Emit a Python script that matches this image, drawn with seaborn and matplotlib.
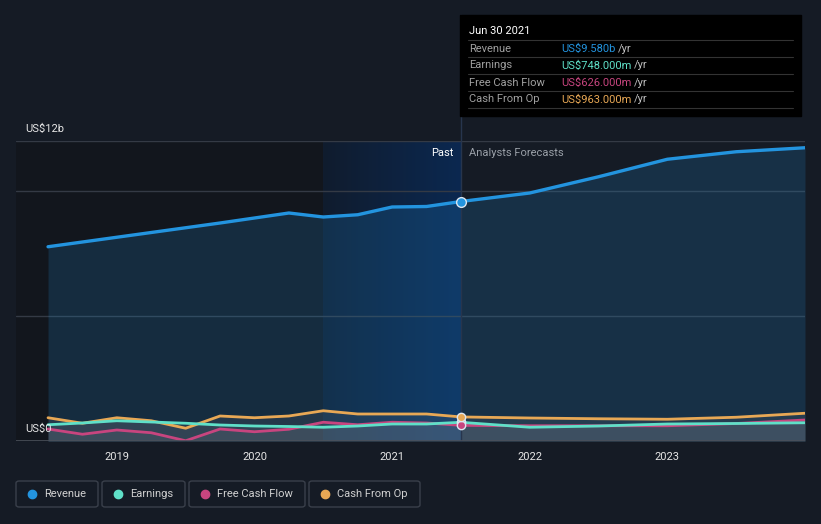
import numpy as np
import pandas as pd
import matplotlib
matplotlib.use("Agg")
import matplotlib.pyplot as plt
import matplotlib.patches as mpatches
from matplotlib.lines import Line2D
from matplotlib.colors import LinearSegmentedColormap
import seaborn as sns

# --- data (US$ billions) ---
past_dates = [2018.5, 2018.75, 2019.0, 2019.25, 2019.5, 2019.75, 2020.0,
              2020.25, 2020.5, 2020.75, 2021.0, 2021.25, 2021.5]
past_revenue = [7.77, 7.96, 8.15, 8.34, 8.53, 8.72, 8.92, 9.12, 8.96, 9.05, 9.36, 9.38, 9.58]
past_earnings = [0.65, 0.72, 0.81, 0.76, 0.71, 0.64, 0.60, 0.58, 0.55, 0.60, 0.68, 0.68, 0.748]
past_fcf = [0.48, 0.27, 0.44, 0.33, 0.01, 0.48, 0.37, 0.47, 0.75, 0.65, 0.75, 0.72, 0.626]
past_cfo = [0.93, 0.71, 0.93, 0.81, 0.51, 1.00, 0.93, 1.00, 1.21, 1.08, 1.08, 1.08, 0.963]

fc_dates = [2021.5, 2022.0, 2022.5, 2023.0, 2023.5, 2024.0]
fc_revenue = [9.58, 9.92, 10.57, 11.27, 11.57, 11.73]
fc_earnings = [0.748, 0.55, 0.60, 0.68, 0.70, 0.73]
fc_fcf = [0.626, 0.61, 0.61, 0.61, 0.70, 0.84]
fc_cfo = [0.963, 0.92, 0.89, 0.87, 0.95, 1.11]

series_names = ["Revenue", "Earnings", "Free Cash Flow", "Cash From Op"]
series_colors = ["#2394df", "#5fe0c8", "#c8457f", "#e8a855"]
tooltip_values = ["US$9.580b", "US$748.000m", "US$626.000m", "US$963.000m"]
year_ticks = [2019, 2020, 2021, 2022, 2023]

W, H = 821, 524
BG = "#151b25"


def fx(x):
    return x / W


def fy(y):
    return 1 - y / H


past = pd.DataFrame({"date": past_dates, "Revenue": past_revenue, "Earnings": past_earnings,
                     "Free Cash Flow": past_fcf, "Cash From Op": past_cfo})
fc = pd.DataFrame({"date": fc_dates, "Revenue": fc_revenue, "Earnings": fc_earnings,
                   "Free Cash Flow": fc_fcf, "Cash From Op": fc_cfo})
full = pd.concat([past, fc.iloc[1:]], ignore_index=True)
long = full.melt(id_vars="date", var_name="series", value_name="value")

sns.set_style("dark")
plt.rcParams["font.family"] = ["Roboto", "DejaVu Sans"]

fig = plt.figure(figsize=(W / 100, H / 100), dpi=100, facecolor=BG)
ax = fig.add_axes([fx(16), fy(441), fx(805) - fx(16), fy(141) - fy(441)])
ax.set_facecolor(BG)

x0 = 2018.5 - 32 / 137.5
x1 = 2024.0
ax.set_xlim(x0, x1)
ax.set_ylim(0, 12)

# past shading
ax.axvspan(x0, 2020.5, color="#12161d", zorder=0, lw=0)
grad = LinearSegmentedColormap.from_list("g", ["#101c2e", "#0b2850"])
ax.imshow(np.linspace(0, 1, 100).reshape(1, -1), extent=[2020.5, 2021.5, 0, 12],
          aspect="auto", cmap=grad, zorder=0.5)
ax.set_xlim(x0, x1)
ax.set_ylim(0, 12)

# grid
for g in [5, 10, 12]:
    ax.axhline(g, color="#343a45", lw=1, zorder=1)
ax.axhline(0, color="#4a505a", lw=1.2, zorder=6)

# fills
ax.fill_between(full["date"], full["Revenue"], color="#2394df", alpha=0.18, lw=0, zorder=2)
for name in series_names[1:]:
    ax.fill_between(full["date"], full[name], color="#8a8f99", alpha=0.13, lw=0, zorder=2)

palette = dict(zip(series_names, series_colors))
sns.lineplot(data=long, x="date", y="value", hue="series", palette=palette,
             hue_order=series_names[::-1], linewidth=2.0, legend=False, ax=ax, zorder=4)
for line in ax.get_lines():
    if line.get_color() == "#2394df":
        line.set_linewidth(2.4)

# vertical marker line at Jun 30 2021
ax.axvline(2021.5, ymin=0, ymax=(441 - 15) / 300, color="#27354d", lw=1, clip_on=False, zorder=3)

# markers at Jun 30 2021
for name, col in zip(series_names, series_colors):
    v = past[name].iloc[-1]
    ms = 7 if name == "Revenue" else 6
    ax.plot([2021.5], [v], "o", ms=ms, mfc=col, mec="#dde6f0", mew=1, zorder=5)

# axes styling
ax.set_xticks(year_ticks)
ax.set_xticklabels([str(y) for y in year_ticks], color="#e6e6e6", fontsize=8)
ax.tick_params(axis="x", length=4, color="#4a505a", pad=4)
ax.set_yticks([])
ax.set_xlabel("")
ax.set_ylabel("")
for s in ax.spines.values():
    s.set_visible(False)
ax.grid(False)

fig.text(fx(25), fy(129), "US$12b", color="#e6e6e6", fontsize=8, va="center")
fig.text(fx(25), fy(429), "US$0", color="#e6e6e6", fontsize=8, va="center")
fig.text(fx(453), fy(153), "Past", color="#ffffff", fontsize=8, va="center", ha="right")
fig.text(fx(469), fy(153), "Analysts Forecasts", color="#9aa0a8", fontsize=8, va="center")

# tooltip
fig.add_artist(mpatches.Rectangle((fx(460), fy(116)), fx(801) - fx(460), fy(15) - fy(116),
                                  transform=fig.transFigure, color="#000000", zorder=10))
fig.text(fx(469), fy(31), "Jun 30 2021", color="#ffffff", fontsize=8, va="center", zorder=11)
for i, (name, col, val) in enumerate(zip(series_names, series_colors, tooltip_values)):
    ysep = 40 + 17 * i
    fig.add_artist(Line2D([fx(468), fx(793)], [fy(ysep), fy(ysep)], transform=fig.transFigure,
                          color="#333333", lw=0.8, zorder=11))
    yt = ysep + 8.5
    fig.text(fx(469), fy(yt), name, color="#a0a0a0", fontsize=8, va="center", zorder=11)
    t = fig.text(fx(561), fy(yt), val, color=col, fontsize=8, va="center", zorder=11)
    fig.canvas.draw()
    bb = t.get_window_extent()
    fig.text(bb.x1 / W + fx(3), fy(yt), "/yr", color="#c0c0c0", fontsize=8, va="center", zorder=11)
fig.add_artist(Line2D([fx(468), fx(793)], [fy(108), fy(108)], transform=fig.transFigure,
                      color="#333333", lw=0.8, zorder=11))

# legend boxes
boxes = [(16, 98), (102, 185), (189, 305), (309, 420)]
for (bx0, bx1), name, col in zip(boxes, series_names, series_colors):
    fig.add_artist(mpatches.FancyBboxPatch((fx(bx0), fy(507)), fx(bx1) - fx(bx0), fy(481) - fy(507),
                                           boxstyle="round,pad=0,rounding_size=0.004",
                                           transform=fig.transFigure, fc=BG, ec="#3a404b", lw=1))
    fig.add_artist(Line2D([fx(bx0 + 16)], [fy(494)], marker="o", ms=6, color=col,
                          transform=fig.transFigure))
    fig.text(fx(bx0 + 28), fy(494), name, color="#d0d0d0", fontsize=8, va="center")

fig.savefig("out.png", dpi=100, facecolor=BG)
